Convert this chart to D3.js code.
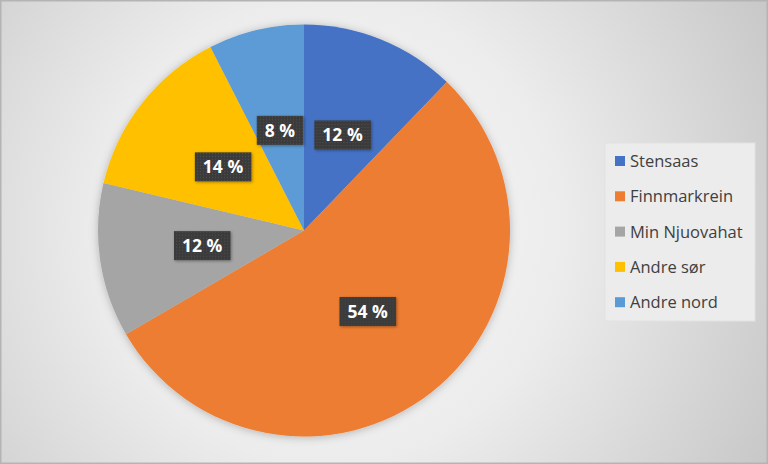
<!DOCTYPE html>
<html>
<head>
<meta charset="utf-8">
<script src="https://cdn.jsdelivr.net/npm/d3@7"></script>
<style>
  html, body { margin: 0; padding: 0; background: #fff; }
  svg { display: block; }
</style>
</head>
<body>
<svg id="chart" width="768" height="464"></svg>
<script>
const categories = ["Stensaas", "Finnmarkrein", "Min Njuovahat", "Andre sør", "Andre nord"];
const values = [12.2, 54.4, 12.1, 13.8, 7.5];
const labels = ["12 %", "54 %", "12 %", "14 %", "8 %"];
const colors = ["#4472C4", "#ED7D31", "#A5A5A5", "#FFC000", "#5B9BD5"];

const W = 768, H = 464;
const svg = d3.select("#chart");
const defs = svg.append("defs");

const bg = defs.append("radialGradient").attr("id", "bg")
  .attr("gradientUnits", "userSpaceOnUse")
  .attr("cx", 330).attr("cy", 230).attr("r", 520);
bg.append("stop").attr("offset", "0%").attr("stop-color", "#fafafa");
bg.append("stop").attr("offset", "45%").attr("stop-color", "#ececec");
bg.append("stop").attr("offset", "100%").attr("stop-color", "#c4c4c4");

const sh = defs.append("filter").attr("id", "shadow")
  .attr("x", "-20%").attr("y", "-20%").attr("width", "140%").attr("height", "140%");
sh.append("feDropShadow").attr("dx", 0).attr("dy", 1).attr("stdDeviation", 4)
  .attr("flood-color", "#000").attr("flood-opacity", 0.25);

const sh2 = defs.append("filter").attr("id", "lshadow")
  .attr("x", "-20%").attr("y", "-30%").attr("width", "140%").attr("height", "160%");
sh2.append("feDropShadow").attr("dx", 1).attr("dy", 1).attr("stdDeviation", 1.5)
  .attr("flood-color", "#000").attr("flood-opacity", 0.35);

const pat = defs.append("pattern").attr("id", "dots")
  .attr("patternUnits", "userSpaceOnUse").attr("width", 3).attr("height", 3);
pat.append("rect").attr("width", 3).attr("height", 3).attr("fill", "#3a3a3a");
pat.append("rect").attr("x", 1).attr("y", 1).attr("width", 1).attr("height", 1).attr("fill", "#505050");

svg.append("rect").attr("width", W).attr("height", H).attr("fill", "url(#bg)");
svg.append("rect").attr("x", 0.5).attr("y", 0.5).attr("width", W - 1).attr("height", H - 1)
  .attr("fill", "none").attr("stroke", "#b4b4b4").attr("stroke-width", 2);

const cx = 304, cy = 230.5, r = 206;
const pie = d3.pie().sort(null).value(d => d)(values);
const arc = d3.arc().innerRadius(0).outerRadius(r);

const g = svg.append("g").attr("transform", `translate(${cx},${cy})`);
g.append("g").attr("filter", "url(#shadow)")
  .selectAll("path").data(pie).join("path")
  .attr("d", arc)
  .attr("fill", (d, i) => colors[i]);

const lab = g.selectAll("g.lab").data(pie).join("g").attr("class", "lab")
  .attr("transform", d => `translate(${arc.centroid(d)})`);
lab.each(function(d, i) {
  const s = d3.select(this);
  const t = s.append("text").text(labels[i])
    .attr("text-anchor", "middle").attr("dy", "0.36em")
    .attr("font-family", "Open Sans, sans-serif").attr("font-weight", "bold")
    .attr("font-size", 17.5).attr("fill", "#fff");
  const bb = t.node().getBBox();
  s.insert("rect", "text")
    .attr("x", bb.x - 8).attr("y", -14.5)
    .attr("width", bb.width + 16).attr("height", 29)
    .attr("fill", "url(#dots)").attr("filter", "url(#lshadow)");
});

// legend
const lg = svg.append("g");
lg.append("rect").attr("x", 605).attr("y", 143).attr("width", 150).attr("height", 178)
  .attr("fill", "#ececec").attr("stroke", "#e2e2e2");
const items = lg.selectAll("g.item").data(categories).join("g").attr("class", "item")
  .attr("transform", (d, i) => `translate(615, ${161 + i * 35.3})`);
items.append("rect").attr("x", 0).attr("y", -5).attr("width", 10).attr("height", 10)
  .attr("fill", (d, i) => colors[i]);
items.append("text").text(d => d)
  .attr("x", 15).attr("dy", "0.36em")
  .attr("font-family", "Open Sans, sans-serif").attr("font-size", 16.5)
  .attr("fill", "#404040");
</script>
</body>
</html>
